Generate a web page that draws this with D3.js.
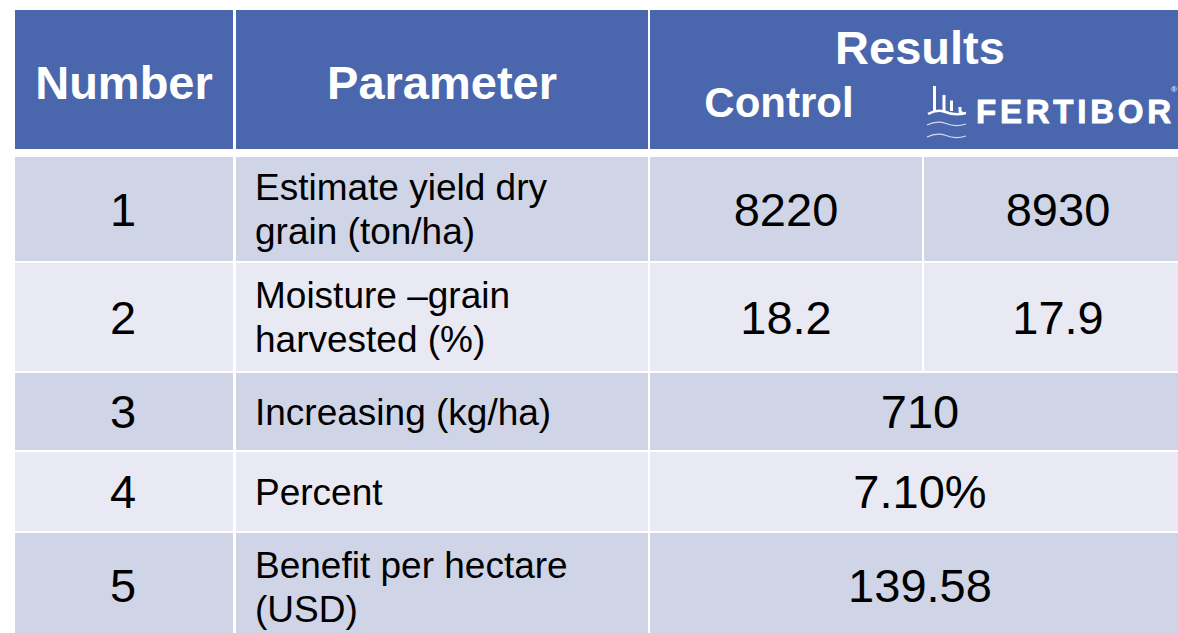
<!DOCTYPE html>
<html>
<head>
<meta charset="utf-8">
<script src="https://cdn.jsdelivr.net/npm/d3@7"></script>
<style>
  body { margin: 0; background: #fff; }
  svg text { font-family: "Liberation Sans", Arial, sans-serif; }
</style>
</head>
<body>
<svg id="chart" width="1178" height="633"></svg>
<script>
'use strict';

// table content
const rowNumbers = ['1', '2', '3', '4', '5'];
const parameters = [
    ['Estimate yield dry', 'grain (ton/ha)'],
    ['Moisture \u2013grain', 'harvested (%)'],
    ['Increasing (kg/ha)'],
    ['Percent'],
    ['Benefit per hectare', '(USD)']
];
const controlValues = ['8220', '18.2', null, null, null];
const fertiborValues = ['8930', '17.9', null, null, null];
const mergedValues = [null, null, '710', '7.10%', '139.58'];
const headerLabels = ['Number', 'Parameter'];

const colors = {
    header: '#4a67ad',
    odd: '#cfd4e6',
    even: '#e8e9f2'
};

const svg = d3.select('#chart');

// column edges (left, right)
const colEdges = {
    num: [15, 233],
    param: [236, 648],
    control: [650, 922],
    fert: [924, 1195]
};
const colX = d3.scaleOrdinal().domain(Object.keys(colEdges)).range(Object.values(colEdges));

// row edges (top, bottom)
const rowTops = [157, 263, 373, 452, 533];
const rowBottoms = [261, 371, 450, 531, 637];
const rowY = d3.scaleOrdinal().domain(rowNumbers).range(rowNumbers.map((d, i) => [rowTops[i], rowBottoms[i]]));

// header block
const head = svg.append('g');
head.append('rect')
    .attr('x', colX('num')[0])
    .attr('y', 10)
    .attr('width', colX('fert')[1] - colX('num')[0])
    .attr('height', 139)
    .attr('fill', colors.header);
// white dividers in header
[[233, 236], [648, 650]].forEach((e) => {
    head.append('rect').attr('x', e[0]).attr('y', 10).attr('width', e[1] - e[0]).attr('height', 139).attr('fill', '#fff');
});

const hText = (x, y, t, size) => head.append('text')
    .attr('x', x).attr('y', y)
    .attr('text-anchor', 'middle')
    .attr('font-weight', 'bold')
    .attr('font-size', size)
    .attr('fill', '#fff')
    .text(t);

hText(d3.mean(colX('num')), 99, headerLabels[0], 47);
hText(d3.mean(colX('param')), 99, headerLabels[1], 47);
hText(920, 64, 'Results', 47);
hText(779, 117, 'Control', 42);

// FERTIBOR logo
const logo = head.append('g');
const bars = [[934.5, 86], [944, 95], [951.5, 100.5]];
logo.selectAll('line.bar')
    .data(bars)
    .enter()
    .append('line')
    .attr('class', 'bar')
    .attr('x1', d => d[0])
    .attr('x2', d => d[0])
    .attr('y1', d => d[1])
    .attr('y2', 111)
    .attr('stroke', '#fff')
    .attr('stroke-width', 3);
logo.append('path')
    .attr('d', 'M960,107 L960,110.5 Q960,113 962.5,112.5')
    .attr('fill', 'none')
    .attr('stroke', '#fff')
    .attr('stroke-width', 3);
logo.append('path')
    .attr('d', 'M928,114 C933,111 938,109.5 944,111.5 C950,114 956,115.5 966,113')
    .attr('fill', 'none')
    .attr('stroke', '#fff')
    .attr('stroke-width', 2.5);
[124, 136].forEach((y) => {
    logo.append('path')
        .attr('d', `M927,${y + 1} C933,${y - 2} 939,${y - 3} 946,${y - 0.5} C952,${y + 2} 958,${y + 2.5} 966,${y}`)
        .attr('fill', 'none')
        .attr('stroke', '#d5dbee')
        .attr('stroke-width', 1.2);
});
logo.append('text')
    .attr('x', 976)
    .attr('y', 123)
    .attr('font-family', 'Inter, "Open Sans", sans-serif')
    .attr('font-weight', 'bold')
    .attr('font-size', 33)
    .attr('textLength', 195)
    .attr('lengthAdjust', 'spacing')
    .attr('fill', '#fff')
    .attr('stroke', '#fff')
    .attr('stroke-width', 0.9)
    .text('FERTIBOR');
logo.append('text')
    .attr('x', 1171)
    .attr('y', 92)
    .attr('font-size', 8)
    .attr('fill', '#fff')
    .text('\u00ae');

// body rows
const body = svg.append('g');
const rows = body.selectAll('g.row')
    .data(rowNumbers)
    .enter()
    .append('g')
    .attr('class', 'row');

const cellRect = (sel, x0, x1, i) => sel.append('rect')
    .attr('x', x0)
    .attr('y', rowY(rowNumbers[i])[0])
    .attr('width', x1 - x0)
    .attr('height', rowY(rowNumbers[i])[1] - rowY(rowNumbers[i])[0])
    .attr('fill', i % 2 === 0 ? colors.odd : colors.even);

rows.each(function (d, i) {
    const g = d3.select(this);
    const [y0, y1] = rowY(d);
    const cy = (y0 + y1) / 2;

    cellRect(g, colX('num')[0], colX('num')[1], i);
    cellRect(g, colX('param')[0], colX('param')[1], i);
    if (mergedValues[i] === null) {
        cellRect(g, colX('control')[0], colX('control')[1], i);
        cellRect(g, colX('fert')[0], colX('fert')[1], i);
    } else {
        cellRect(g, colX('control')[0], colX('fert')[1], i);
    }

    const numText = (x, t) => g.append('text')
        .attr('x', x)
        .attr('y', cy + 47 * 0.355)
        .attr('text-anchor', 'middle')
        .attr('font-size', 47)
        .attr('fill', '#000')
        .text(t);

    numText(d3.mean(colX('num')) - 1, d);

    const lines = parameters[i];
    const gap = 43.5;
    const shift = i === 4 ? 2 : 0;
    lines.forEach((line, k) => {
        g.append('text')
            .attr('x', 255)
            .attr('y', cy + shift + 37 * 0.355 + (k - (lines.length - 1) / 2) * gap)
            .attr('font-size', 37)
            .attr('fill', '#000')
            .text(line);
    });

    if (mergedValues[i] === null) {
        numText(786, controlValues[i]);
        numText(1058, fertiborValues[i]);
    } else {
        numText(920, mergedValues[i]);
    }
});
</script>
</body>
</html>
